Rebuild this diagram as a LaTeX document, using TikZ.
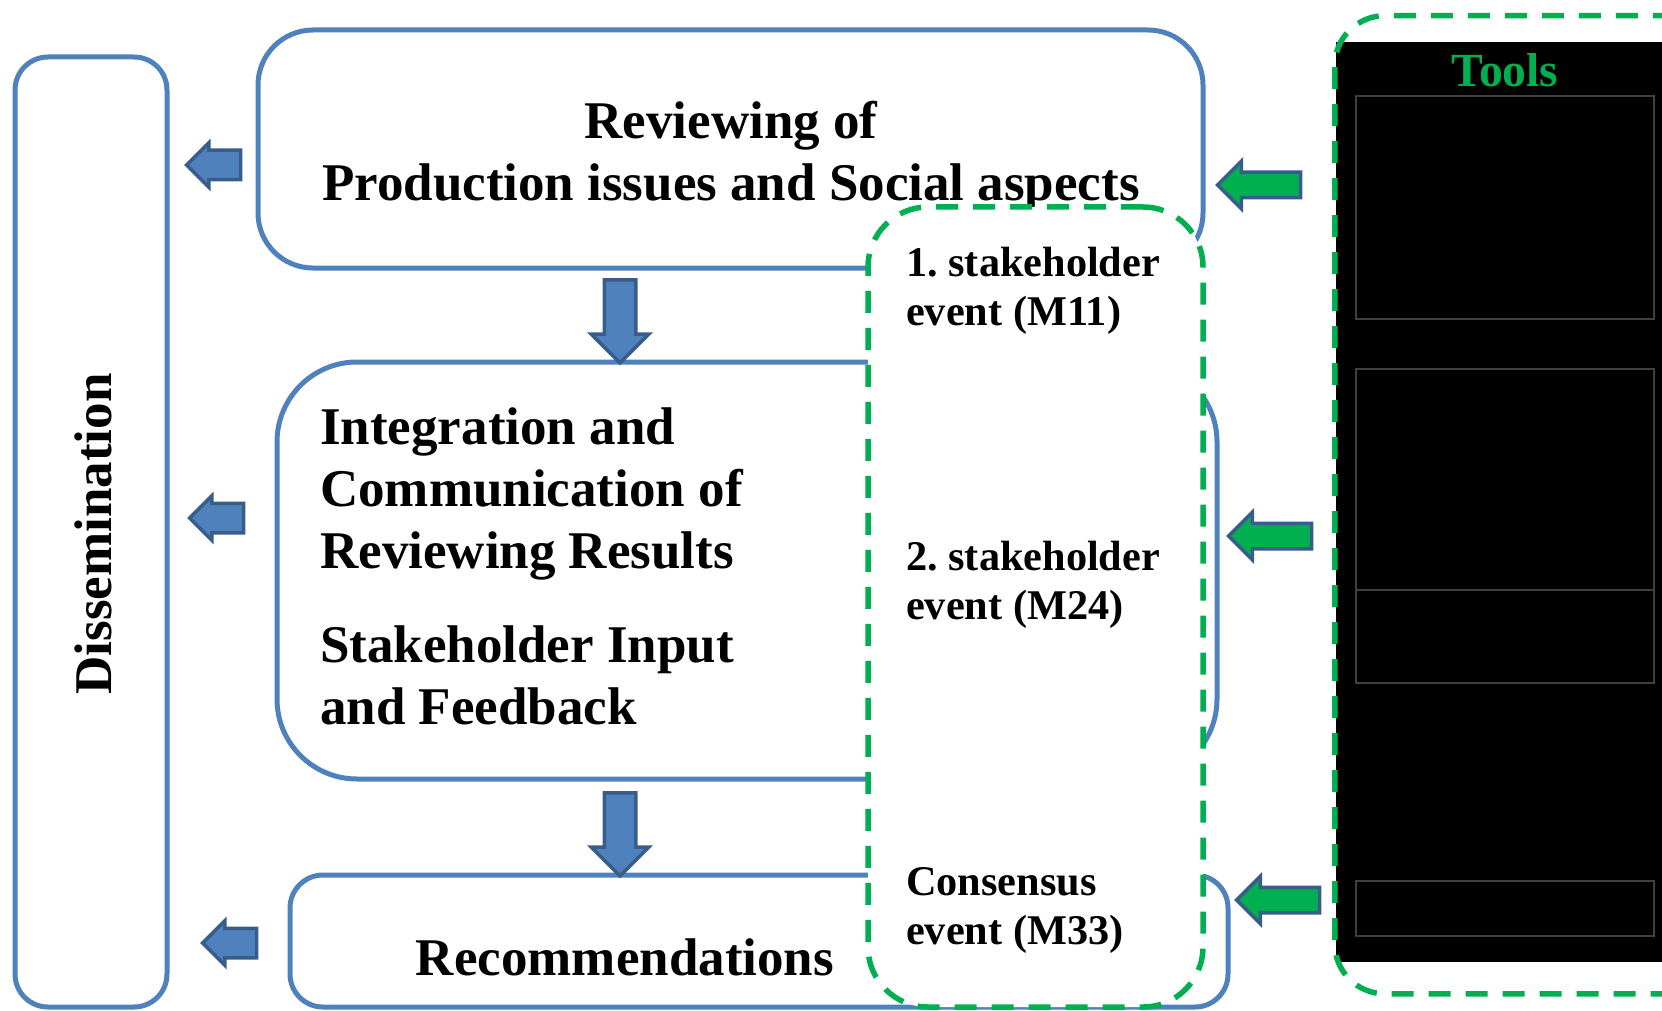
\documentclass[tikz,border=0pt]{standalone}
\usepackage{fontspec}
\setmainfont{Liberation Serif}
\usepackage{tikz}
\usetikzlibrary{shapes.arrows,positioning}
\definecolor{boxBlue}{HTML}{4F81BD}
\definecolor{arrowEdge}{HTML}{385D8A}
\definecolor{toolGreen}{HTML}{00B050}
\definecolor{toolGrid}{HTML}{404040}

\begin{document}
\begin{tikzpicture}[x=1pt, y=-1pt,
  box/.style={draw=boxBlue, line width=5pt, rounded corners=#1, inner sep=0pt},
  evt/.style={draw=toolGreen, line width=5.5pt, dash pattern=on 22pt off 15pt, rounded corners=#1, inner sep=0pt},
  frm/.style={draw=toolGrid, line width=1.5pt, minimum width=298pt, inner sep=0pt},
  blk/.style n args={3}{single arrow, draw=arrowEdge, line width=3.5pt, minimum height=#1, inner sep=#2, single arrow head extend=#3},
  big/.style={font=\fontsize{53}{62}\selectfont\bfseries, inner sep=0pt},
  sml/.style={font=\fontsize{42.3}{49}\selectfont\bfseries, inner sep=0pt, align=left, anchor=north west}]
\useasboundingbox (0,0) rectangle (1662,1011);

% main column
\node[box=33pt, minimum width=152pt, minimum height=950pt] (diss) at (91,532) {};
\node[box=55pt, minimum width=945pt, minimum height=238pt] (rev) at (730.5,149) {};
\node[box=80pt, minimum width=940pt, minimum height=417pt] (integ) at (747,570.5) {};
\node[box=33pt, minimum width=938pt, minimum height=132pt] (rec) at (759,941) {};

\node[big, rotate=90] (dissTxt) at (93,534) {Dissemination};
\node[big, align=center, anchor=north] (revTxt) at (731,101) {Reviewing of\\Production issues and Social aspects};
\node[big, align=left, anchor=north west] (integTxt) at (320,408) {Integration and\\Communication of\\Reviewing Results};
\node[big, align=left, below=45pt of integTxt.south west, anchor=north west] (inputTxt) {Stakeholder Input\\and Feedback};
\node[big, anchor=base] (recTxt) at (625,975) {Recommendations};

% stakeholder events
\node[evt=60pt, fill=white, minimum width=335pt, minimum height=800pt] (events) at (1035.5,607) {};
\node[sml] (ev1) at (906,247) {1.\ stakeholder\\event (M11)};
\node[sml] (ev2) at (906,541) {2.\ stakeholder\\event (M24)};
\node[sml] (ev3) at (906,867) {Consensus\\event (M33)};

% tools column
\node[fill=black, minimum width=364pt, minimum height=920pt, inner sep=0pt, anchor=north west] (toolsBg) at (1336,42) {};
\node[evt=50pt, minimum width=390pt, minimum height=978pt, anchor=north west] (tools) at (1332,13) {};
\node[font=\fontsize{47.6}{56}\selectfont\bfseries, text=toolGreen, anchor=base, inner sep=0pt] (toolsTxt) at (1505,87) {Tools};
\node[frm, minimum height=223pt] (f1) at (1505,207.5) {};
\node[frm, minimum height=221pt] (f2) at (1505,479.5) {};
\node[frm, minimum height=93pt] (f3) at (1505,636.5) {};
\node[frm, minimum height=55pt] (f4) at (1505,908.5) {};

% block arrows
\node[blk={54pt}{13pt}{7.5pt}, fill=boxBlue, rotate=180] (out1) at (221,165) {};
\node[blk={54pt}{13pt}{7.5pt}, fill=boxBlue, rotate=180] (out2) at (224,518) {};
\node[blk={54pt}{13pt}{7.5pt}, fill=boxBlue, rotate=180] (out3) at (237,943) {};
\node[blk={83pt}{14pt}{13pt}, fill=boxBlue, rotate=-90] (down1) at (620,313.5) {};
\node[blk={83pt}{14pt}{13pt}, fill=boxBlue, rotate=-90] (down2) at (620,826.5) {};
\node[blk={83pt}{11pt}{11pt}, fill=toolGreen, rotate=180] (in1) at (1265.5,185) {};
\node[blk={83pt}{11pt}{11pt}, fill=toolGreen, rotate=180] (in2) at (1276.5,536) {};
\node[blk={83pt}{11pt}{11pt}, fill=toolGreen, rotate=180] (in3) at (1284.5,900) {};
\end{tikzpicture}
\end{document}
